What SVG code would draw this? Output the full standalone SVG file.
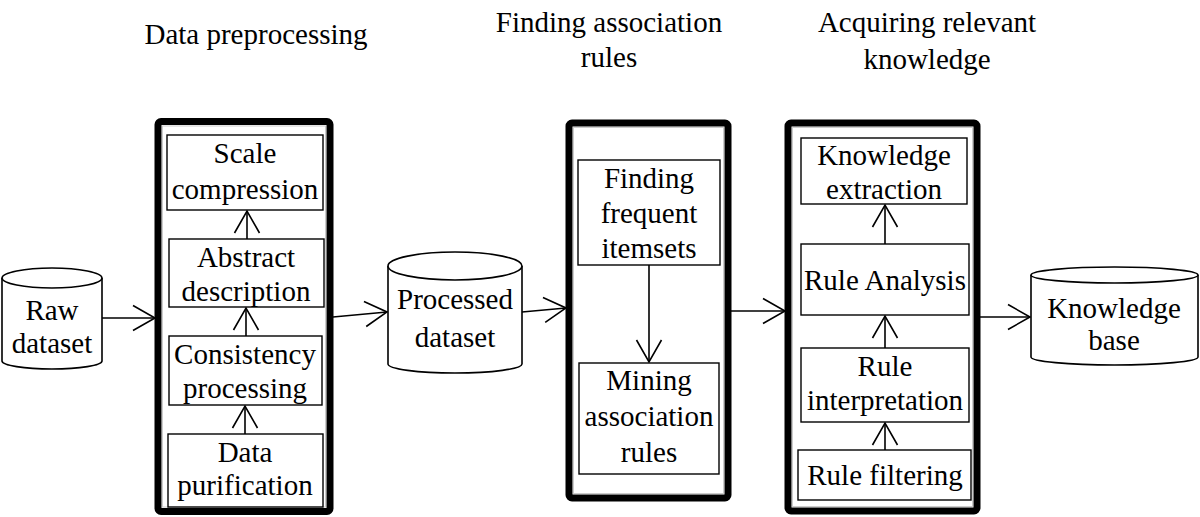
<svg xmlns="http://www.w3.org/2000/svg" width="1200" height="517" viewBox="0 0 1200 517">
<defs>
<marker id="arr" markerUnits="userSpaceOnUse" markerWidth="40" markerHeight="40" refX="0" refY="0" orient="auto" viewBox="-30 -20 40 40" overflow="visible">
<path d="M -22 -12.5 L 0 0 L -22 12.5" fill="none" stroke="#000" stroke-width="1.6"/>
</marker>
</defs>
<style>
text{font-family:"Liberation Serif","Tinos","Times New Roman","DejaVu Serif",serif;font-size:29px;fill:#000;text-anchor:middle}
.b{fill:#fff;stroke:#000;stroke-width:1.4}
.g{fill:#fff;stroke:#000;stroke-width:7}
.gi{fill:none;stroke:#ccc;stroke-width:1}
.c{fill:#fff;stroke:#000;stroke-width:1.6}
.e{fill:none;stroke:#000;stroke-width:1.6;marker-end:url(#arr)}
</style>
<rect width="1200" height="517" fill="#fff"/>

<g id="titles">
<text x="256" y="44">Data preprocessing</text>
<text x="609" y="32">Finding association</text>
<text x="609" y="67">rules</text>
<text x="927" y="32">Acquiring relevant</text>
<text x="927" y="69">knowledge</text>
</g>

<g id="group-preprocessing">
<rect class="g" x="158" y="121.5" width="172" height="390" rx="3"/>
<rect class="gi" x="162.5" y="126" width="163" height="381"/>
</g>
<g id="group-finding">
<rect class="g" x="569" y="123" width="159" height="375" rx="3"/>
<rect class="gi" x="573.5" y="127.5" width="150" height="366"/>
</g>
<g id="group-acquiring">
<rect class="g" x="788" y="123" width="189" height="388" rx="3"/>
<rect class="gi" x="792.5" y="127.5" width="180" height="379"/>
</g>

<g id="connectors">
<line class="e" x1="102" y1="318" x2="155" y2="318"/>
<line class="e" x1="333" y1="317" x2="387" y2="312"/>
<line class="e" x1="522" y1="312" x2="566" y2="308"/>
<line class="e" x1="731" y1="311" x2="785" y2="311"/>
<line class="e" x1="980" y1="317" x2="1030" y2="317"/>
<line class="e" x1="247" y1="239" x2="247" y2="211"/>
<line class="e" x1="246" y1="336" x2="246" y2="308"/>
<line class="e" x1="245" y1="434" x2="245" y2="406"/>
<line class="e" x1="649" y1="265" x2="649" y2="362"/>
<line class="e" x1="885" y1="244" x2="885" y2="205"/>
<line class="e" x1="885" y1="348" x2="885" y2="316"/>
<line class="e" x1="885" y1="450" x2="885" y2="423"/>
</g>

<g id="raw-dataset">
<path class="c" d="M 2 278 L 2 361 A 50 8 0 0 0 102 361 L 102 278"/>
<ellipse class="c" cx="52" cy="278" rx="50" ry="10"/>
<text x="52" y="320">Raw</text>
<text x="52" y="353">dataset</text>
</g>

<g id="scale-compression">
<rect class="b" x="167" y="135" width="156" height="75"/>
<text x="245" y="163">Scale</text>
<text x="245" y="199">compression</text>
</g>
<g id="abstract-description">
<rect class="b" x="169" y="239" width="155" height="68"/>
<text x="246" y="267">Abstract</text>
<text x="246" y="301">description</text>
</g>
<g id="consistency-processing">
<rect class="b" x="169" y="336" width="153" height="69"/>
<text x="245" y="364">Consistency</text>
<text x="245" y="398">processing</text>
</g>
<g id="data-purification">
<rect class="b" x="168" y="434" width="155" height="73"/>
<text x="245" y="462">Data</text>
<text x="245" y="495">purification</text>
</g>

<g id="processed-dataset">
<path class="c" d="M 388 266 L 388 364 A 67 9 0 0 0 522 364 L 522 266"/>
<ellipse class="c" cx="455" cy="266" rx="67" ry="14"/>
<text x="455" y="309">Processed</text>
<text x="455" y="347">dataset</text>
</g>

<g id="finding-frequent-itemsets">
<rect class="b" x="578" y="160" width="142" height="105"/>
<text x="649" y="188">Finding</text>
<text x="649" y="223">frequent</text>
<text x="649" y="258">itemsets</text>
</g>
<g id="mining-association-rules">
<rect class="b" x="579" y="363" width="140" height="111"/>
<text x="649" y="390">Mining</text>
<text x="649" y="426">association</text>
<text x="649" y="462">rules</text>
</g>

<g id="knowledge-extraction">
<rect class="b" x="801" y="138" width="166" height="66"/>
<text x="884" y="165">Knowledge</text>
<text x="884" y="199">extraction</text>
</g>
<g id="rule-analysis">
<rect class="b" x="801" y="244" width="168" height="71"/>
<text x="885" y="290">Rule Analysis</text>
</g>
<g id="rule-interpretation">
<rect class="b" x="801" y="348" width="168" height="74"/>
<text x="885" y="376">Rule</text>
<text x="885" y="410">interpretation</text>
</g>
<g id="rule-filtering">
<rect class="b" x="798" y="450" width="173" height="50"/>
<text x="885" y="485">Rule filtering</text>
</g>

<g id="knowledge-base">
<path class="c" d="M 1031 275 L 1031 357 A 83.5 8 0 0 0 1198 357 L 1198 275"/>
<ellipse class="c" cx="1114.5" cy="275" rx="83.5" ry="8"/>
<text x="1114" y="318">Knowledge</text>
<text x="1114" y="350">base</text>
</g>
</svg>
